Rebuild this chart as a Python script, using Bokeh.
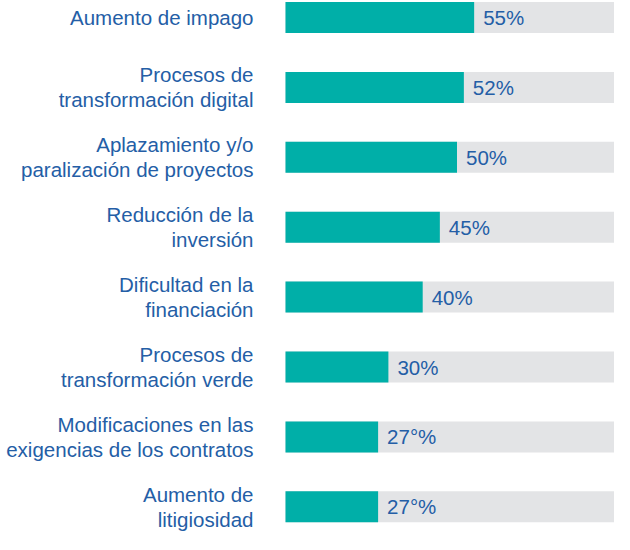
from bokeh.plotting import figure
from bokeh.models import ColumnDataSource, Range1d
from bokeh.core.properties import value
from bokeh.embed import file_html
from bokeh.resources import INLINE

categories = [
    "Aumento de impago",
    "Procesos de\ntransformación digital",
    "Aplazamiento y/o\nparalización de proyectos",
    "Reducción de la\ninversión",
    "Dificultad en la\nfinanciación",
    "Procesos de\ntransformación verde",
    "Modificaciones en las\nexigencias de los contratos",
    "Aumento de\nlitigiosidad",
]
values = [55, 52, 50, 45, 40, 30, 27, 27]
value_labels = ["55%", "52%", "50%", "45%", "40%", "30%", "27°%", "27°%"]
full_scale = [100] * len(values)
positions = list(range(len(values)))

TEAL = "#00AFA8"
GREY = "#E3E4E6"
BLUE = "#245EA6"
FONT = "Liberation Sans"

src = ColumnDataSource(dict(
    y=positions, cat=categories, val=values, lab=value_labels, full=full_scale,
))

W, H = 614, 534
px_per_unit = 3.43
zero_px = 285
x_start = -zero_px / px_per_unit
x_end = x_start + W / px_per_unit

row_px = 69.9
top_px = 17.0
y_top = -top_px / row_px
y_bottom = y_top + H / row_px

p = figure(width=W, height=H, output_backend="svg", toolbar_location=None,
           x_range=Range1d(x_start, x_end), y_range=Range1d(y_bottom, y_top),
           min_border=0, min_border_left=0, min_border_right=0,
           min_border_top=0, min_border_bottom=0)
p.axis.visible = False
p.grid.visible = False
p.outline_line_color = None
p.background_fill_color = "white"
p.border_fill_color = "white"

bar_h = 31 / row_px
p.hbar(y="y", left=0, right="full", height=bar_h, source=src,
       fill_color=GREY, line_color=None)
p.hbar(y="y", left=0, right="val", height=bar_h, source=src,
       fill_color=TEAL, line_color=None)

p.text(x=0, y="y", text="cat", source=src, x_offset=-32,
       text_align="right", text_baseline="middle",
       text_font=value(FONT), text_font_size="20.5px",
       text_color=BLUE, text_line_height=1.08)

p.text(x="val", y="y", text="lab", source=src, x_offset=9,
       text_align="left", text_baseline="middle",
       text_font=value(FONT), text_font_size="20.5px",
       text_color=BLUE)

open("out.html", "w").write(file_html(p, INLINE))
